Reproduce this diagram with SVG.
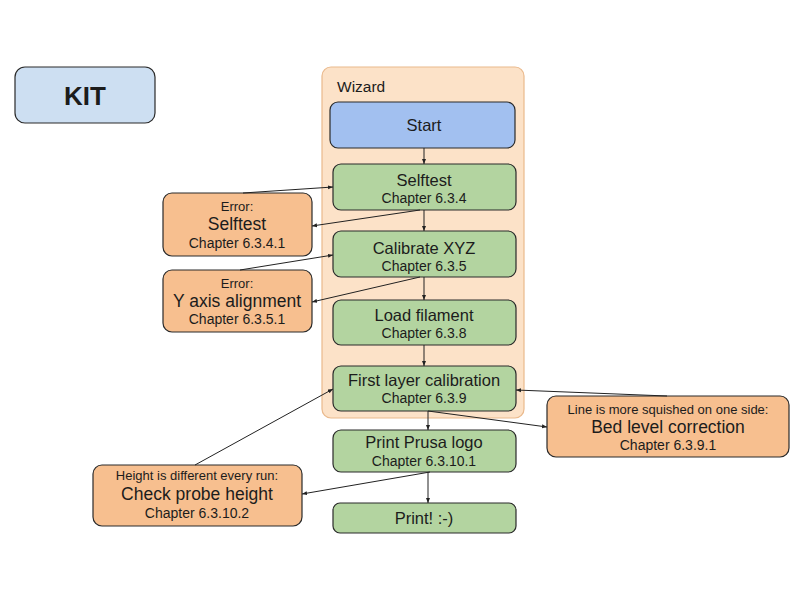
<svg xmlns="http://www.w3.org/2000/svg" width="800" height="600" viewBox="0 0 800 600">
<defs>
<marker id="ah" viewBox="0 0 10 10" refX="10" refY="5" markerWidth="5" markerHeight="5" orient="auto">
<path d="M0,1 L10,5 L0,9 z" fill="#222"/>
</marker>
<style>
text{font-family:"Liberation Sans",Arial,sans-serif;fill:#1c1c1c;text-anchor:middle}
.g{fill:#b3d4a0;stroke:#2a2a2a;stroke-width:1.2}
.o{fill:#f7bf8f;stroke:#2a2a2a;stroke-width:1.2}
.t{font-size:16.5px}
.b{font-size:17.5px}
.c{font-size:14px}
.s{font-size:13px}
.e{stroke:#222;stroke-width:1;fill:none;marker-end:url(#ah)}
</style>
</defs>
<rect width="800" height="600" fill="#fff"/>
<g id="kit"><rect x="15" y="67" width="140" height="56" rx="10" fill="#cddff2" stroke="#2a2a2a" stroke-width="1.2"/><text x="85" y="105" style="font-size:26px;font-weight:bold">KIT</text></g>
<g id="wizard"><rect x="322" y="67" width="202" height="351" rx="9" fill="#fce2c8" stroke="#eab98c" stroke-width="1.2"/><text x="337" y="92" style="font-size:15.5px;text-anchor:start">Wizard</text></g>
<g id="start"><rect x="330" y="102" width="185" height="46" rx="8" fill="#a2c0f0" stroke="#2a2a2a" stroke-width="1.2"/><text x="424" y="131" class="t">Start</text></g>
<g id="selftest"><rect class="g" x="333" y="164" width="183" height="46" rx="8"/><text x="424" y="186" class="t">Selftest</text><text x="424" y="203" class="c">Chapter 6.3.4</text></g>
<g id="err-selftest"><rect class="o" x="163" y="193" width="149" height="63" rx="9"/><text x="237" y="211" class="s">Error:</text><text x="237" y="230" class="b">Selftest</text><text x="237" y="248" class="c">Chapter 6.3.4.1</text></g>
<g id="calibrate"><rect class="g" x="333" y="231" width="183" height="46" rx="8"/><text x="424" y="254" class="t">Calibrate XYZ</text><text x="424" y="271" class="c">Chapter 6.3.5</text></g>
<g id="err-yaxis"><rect class="o" x="163" y="270" width="149" height="62" rx="9"/><text x="237" y="288" class="s">Error:</text><text x="237" y="307" class="b">Y axis alignment</text><text x="237" y="324" class="c">Chapter 6.3.5.1</text></g>
<g id="load"><rect class="g" x="333" y="300" width="183" height="45" rx="8"/><text x="424" y="321" class="t">Load filament</text><text x="424" y="338" class="c">Chapter 6.3.8</text></g>
<g id="firstlayer"><rect class="g" x="333" y="366" width="183" height="45" rx="8"/><text x="424" y="386" class="t">First layer calibration</text><text x="424" y="403" class="c">Chapter 6.3.9</text></g>
<g id="bedlevel"><rect class="o" x="547" y="396" width="242" height="61" rx="9"/><text x="668" y="414" class="s">Line is more squished on one side:</text><text x="668" y="433" class="b">Bed level correction</text><text x="668" y="450" class="c">Chapter 6.3.9.1</text></g>
<g id="prusalogo"><rect class="g" x="333" y="430" width="183" height="42" rx="8"/><text x="424" y="448" class="t">Print Prusa logo</text><text x="424" y="466" class="c">Chapter 6.3.10.1</text></g>
<g id="probe"><rect class="o" x="93" y="465" width="209" height="61" rx="9"/><text x="197" y="480" class="s">Height is different every run:</text><text x="197" y="500" class="b">Check probe height</text><text x="197" y="518" class="c">Chapter 6.3.10.2</text></g>
<g id="print"><rect class="g" x="333" y="503" width="183" height="30" rx="7"/><text x="424" y="524" class="t">Print! :-)</text></g>
<g id="connectors">
<line class="e" x1="424" y1="148" x2="424" y2="164"/>
<line class="e" x1="424" y1="210" x2="424" y2="231"/>
<line class="e" x1="424" y1="277" x2="424" y2="300"/>
<line class="e" x1="424" y1="345" x2="424" y2="366"/>
<line class="e" x1="428" y1="411" x2="428" y2="430"/>
<line class="e" x1="428" y1="472" x2="428" y2="503"/>
<line class="e" x1="243" y1="193" x2="333" y2="187"/>
<line class="e" x1="420" y1="210" x2="312" y2="226"/>
<line class="e" x1="240" y1="270" x2="333" y2="255"/>
<line class="e" x1="420" y1="277" x2="312" y2="302"/>
<line class="e" x1="428" y1="411" x2="547" y2="427"/>
<line class="e" x1="667" y1="396" x2="516" y2="390"/>
<line class="e" x1="195" y1="465" x2="333" y2="389"/>
<line class="e" x1="430" y1="472" x2="302" y2="494"/>
</g>
</svg>
